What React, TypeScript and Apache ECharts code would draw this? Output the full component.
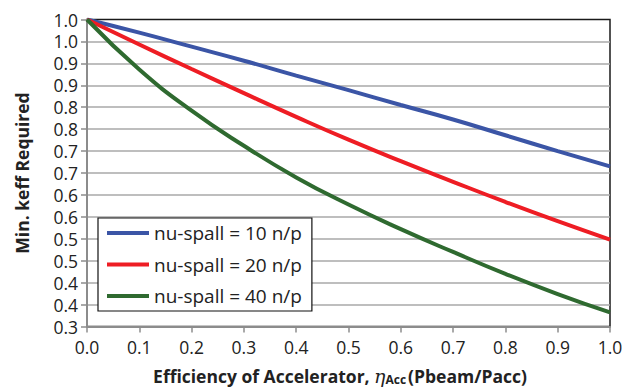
import React, { useEffect, useRef } from "react";
import * as echarts from "echarts";

// Accelerator efficiency (Pbeam/Pacc)
const efficiency = [0, 0.1, 0.2, 0.3, 0.4, 0.5, 0.6, 0.7, 0.8, 0.9, 1.0];

// Minimum keff required for each spallation neutron yield
const keffNu10 = [1.0, 0.970, 0.938, 0.906, 0.872, 0.839, 0.805, 0.772, 0.736, 0.700, 0.665];
const keffNu20 = [1.0, 0.943, 0.887, 0.832, 0.778, 0.726, 0.677, 0.630, 0.584, 0.540, 0.498];
const keffNu40 = [1.0, 0.886, 0.792, 0.712, 0.640, 0.578, 0.522, 0.470, 0.420, 0.374, 0.332];

const seriesNames = ["nu-spall = 10 n/p", "nu-spall = 20 n/p", "nu-spall = 40 n/p"];
const seriesColors = ["#3B55A6", "#EE1D24", "#2F6A30"];

// Tick labels, one decimal place (0.05 steps round up)
const yTickLabels = [
  "0.3", "0.4", "0.4", "0.5", "0.5", "0.6", "0.6", "0.7",
  "0.7", "0.8", "0.8", "0.9", "0.9", "1.0", "1.0",
];
const xTickLabels = ["0.0", "0.1", "0.2", "0.3", "0.4", "0.5", "0.6", "0.7", "0.8", "0.9", "1.0"];

const FONT = "'Open Sans', Lato, sans-serif";

export default function App() {
  const ref = useRef<HTMLDivElement>(null);

  useEffect(() => {
    if (!ref.current) return;
    const chart = echarts.init(ref.current, undefined, { renderer: "svg" });
    const allSeries = [keffNu10, keffNu20, keffNu40];

    chart.setOption({
      animation: false,
      backgroundColor: "#ffffff",
      grid: {
        left: 87,
        right: 16,
        top: 19.5,
        bottom: 62.5,
        show: true,
        borderColor: "#1a1a1a",
        borderWidth: 1.5,
      },
      legend: {
        orient: "vertical",
        left: 98,
        top: 218,
        data: seriesNames,
        icon: "rect",
        itemWidth: 42,
        itemHeight: 4,
        itemGap: 11.5,
        itemStyle: { borderWidth: 0 },
        padding: [5, 10, 5, 9],
        backgroundColor: "#ffffff",
        borderColor: "#111111",
        borderWidth: 1.2,
        borderRadius: 0,
        textStyle: { fontFamily: FONT, fontSize: 19, color: "#222", lineHeight: 20 },
      },
      xAxis: {
        type: "value",
        min: 0,
        max: 1,
        interval: 0.1,
        axisLine: { show: true, lineStyle: { color: "#8c8c8c", width: 2 } },
        axisTick: { show: true, length: 6, lineStyle: { color: "#8c8c8c", width: 1.5 } },
        splitLine: { show: false },
        axisLabel: {
          margin: 11,
          fontFamily: FONT,
          fontSize: 17.5,
          color: "#222",
          formatter: (v: number) => xTickLabels[Math.round(v * 10)] ?? "",
        },
      },
      yAxis: {
        type: "value",
        min: 0.3,
        max: 1.0,
        interval: 0.05,
        axisLine: { show: true, lineStyle: { color: "#8c8c8c", width: 2 } },
        axisTick: { show: true, length: 6, lineStyle: { color: "#8c8c8c", width: 1.5 } },
        splitLine: {
          show: true,
          showMinLine: false,
          showMaxLine: false,
          lineStyle: { color: "#a8a8a8", width: 1.5 },
        },
        axisLabel: {
          margin: 9,
          fontFamily: FONT,
          fontSize: 17.5,
          color: "#222",
          formatter: (v: number) => yTickLabels[Math.round((v - 0.3) / 0.05)] ?? "",
        },
      },
      series: allSeries.map((vals, i) => ({
        name: seriesNames[i],
        type: "line",
        smooth: true,
        showSymbol: false,
        color: seriesColors[i],
        lineStyle: { color: seriesColors[i], width: 4 },
        data: efficiency.map((x, j) => [x, vals[j]]),
        z: 3 + i,
      })),
      graphic: [
        {
          type: "text",
          x: 22,
          y: 173,
          rotation: Math.PI / 2,
          style: {
            text: "Min. keff Required",
            fontFamily: FONT,
            fontSize: 17.5,
            fontWeight: "bold",
            fill: "#222",
            align: "center",
            verticalAlign: "middle",
          },
        },
        {
          type: "text",
          x: 340,
          y: 376,
          style: {
            text: "{b|Efficiency of Accelerator, }{i|η}{s|Acc}{b|(Pbeam/Pacc)}",
            align: "center",
            verticalAlign: "middle",
            rich: {
              b: { fontFamily: FONT, fontSize: 17.5, fontWeight: "bold", fill: "#222" },
              i: { fontFamily: "'DejaVu Serif', serif", fontSize: 19, fontStyle: "italic", fill: "#222" },
              s: {
                fontFamily: FONT,
                fontSize: 12,
                fontWeight: "bold",
                fill: "#222",
                padding: [7, 2, 0, 0],
              },
            },
          },
        },
      ],
    });

    return () => chart.dispose();
  }, []);

  return (
    <div
      ref={ref}
      style={{ position: "fixed", left: 0, top: 0, width: 626, height: 389 }}
    />
  );
}
